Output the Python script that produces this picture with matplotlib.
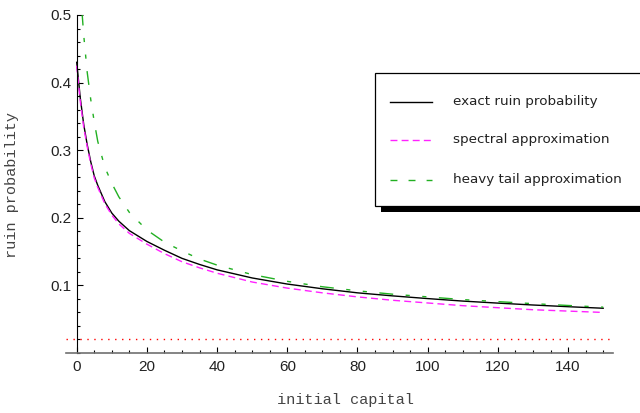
import matplotlib
matplotlib.use("Agg")
import matplotlib.pyplot as plt
from matplotlib.patches import Rectangle
from matplotlib.lines import Line2D
from matplotlib.ticker import MultipleLocator

# values
x_exact = [0, 1, 2, 3, 4, 5, 6, 8, 10, 12, 15, 20, 25, 30, 35, 40, 50, 60, 70, 80, 90, 100, 110, 120, 130, 140, 150]
exact = [0.430, 0.378, 0.338, 0.308, 0.283, 0.262, 0.248, 0.224, 0.207, 0.195, 0.181, 0.165, 0.152, 0.140, 0.131,
         0.123, 0.111, 0.102, 0.095, 0.089, 0.0845, 0.0805, 0.0768, 0.0738, 0.0710, 0.0685, 0.0662]

x_spectral = [0, 1, 2, 3, 4, 5, 6, 8, 10, 12, 15, 20, 25, 30, 35, 40, 50, 60, 70, 80, 90, 100, 110, 120, 130, 140, 150]
spectral = [0.425, 0.373, 0.334, 0.305, 0.280, 0.259, 0.245, 0.221, 0.204, 0.191, 0.177, 0.161, 0.147, 0.135, 0.126,
            0.118, 0.105, 0.096, 0.089, 0.083, 0.078, 0.074, 0.070, 0.067, 0.064, 0.062, 0.060]

x_heavy = [1.5, 2, 3, 4, 5, 6, 8, 10, 12, 15, 20, 25, 30, 35, 40, 50, 60, 70, 80, 90, 100, 110, 120, 130, 140, 150]
heavy = [0.505, 0.470, 0.415, 0.375, 0.342, 0.313, 0.275, 0.251, 0.231, 0.208, 0.182, 0.164, 0.151, 0.139, 0.130,
         0.116, 0.106, 0.098, 0.092, 0.087, 0.083, 0.079, 0.076, 0.073, 0.0703, 0.0678]

level = 0.02

labels = ["exact ruin probability", "spectral approximation", "heavy tail approximation"]
x_ticks = [0, 20, 40, 60, 80, 100, 120, 140]
y_ticks = [0.1, 0.2, 0.3, 0.4, 0.5]

fig = plt.figure(figsize=(6.4, 4.13), dpi=100)
W, H = 640, 413
ax = fig.add_axes([66 / W, (H - 353) / H, (613 - 66) / W, (353 - 15) / H])

green = "#22b022"
magenta = "#ff22ff"
styles = [
    dict(color="black", lw=1.0, linestyle="-"),
    dict(color=magenta, lw=1.0, linestyle=(0, (5, 3))),
    dict(color=green, lw=1.0, linestyle=(0, (10, 9, 3, 9, 3, 9))),
]
# legend samples (the green one shows as even short dashes in the reference)
legend_styles = [
    styles[0],
    styles[1],
    dict(color=green, lw=1.0, linestyle=(0, (5, 8))),
]

ax.plot(x_exact, exact, **styles[0])
ax.plot(x_spectral, spectral, **styles[1])
ax.plot(x_heavy, heavy, **styles[2])
ax.axhline(level, color="red", lw=1.0, linestyle=(0, (1, 4)))

ax.set_xlim(-3.05, 152.8)
ax.set_ylim(0, 0.5)

for s in ["top", "right"]:
    ax.spines[s].set_visible(False)
ax.spines["left"].set_position(("data", 0))
ax.spines["left"].set_color("black")
ax.spines["bottom"].set_color("#707070")
ax.spines["bottom"].set_linewidth(1.2)

ax.set_xticks(x_ticks)
ax.set_xticklabels([str(t) for t in x_ticks])
ax.set_yticks(y_ticks)
ax.set_yticklabels([str(t) for t in y_ticks])
ax.xaxis.set_minor_locator(MultipleLocator(5))
ax.yaxis.set_minor_locator(MultipleLocator(0.02))
ax.tick_params(which="both", direction="in", colors="black", labelcolor="#222222",
               labelsize=11, width=0.8)
ax.tick_params(which="major", length=4.5)
ax.tick_params(which="minor", length=2.2)
ax.tick_params(axis="x", which="major", pad=5)
ax.tick_params(axis="y", which="major", pad=4)
for lab in ax.get_xticklabels() + ax.get_yticklabels():
    lab.set_family("Liberation Sans")

fig.text(345 / W, 1 - 400 / H, "initial capital", family="Liberation Mono", fontsize=11,
         color="#444444", ha="center", va="center")
fig.text(12 / W, 1 - 185 / H, "ruin probability", family="Liberation Mono", fontsize=11,
         color="#444444", ha="center", va="center", rotation=90)

# legend box with black drop shadow
fig.add_artist(Rectangle((381 / W, 1 - 212 / H), 300 / W, 7 / H, transform=fig.transFigure,
                         facecolor="black", edgecolor="none", zorder=5))
fig.add_artist(Rectangle((375 / W, 1 - 205.5 / H), 300 / W, 133 / H, transform=fig.transFigure,
                         facecolor="white", edgecolor="black", lw=0.9, zorder=6))
rows = [101.5, 140, 179.5]
for lab, st, yy in zip(labels, legend_styles, rows):
    fig.add_artist(Line2D([390 / W, 432 / W], [1 - yy / H, 1 - yy / H], transform=fig.transFigure,
                          zorder=7, **st))
    fig.text(453 / W, 1 - yy / H, lab, family="DejaVu Sans", fontsize=9.7, color="#222222",
             ha="left", va="center", zorder=7)

fig.savefig("out.png", dpi=100)
